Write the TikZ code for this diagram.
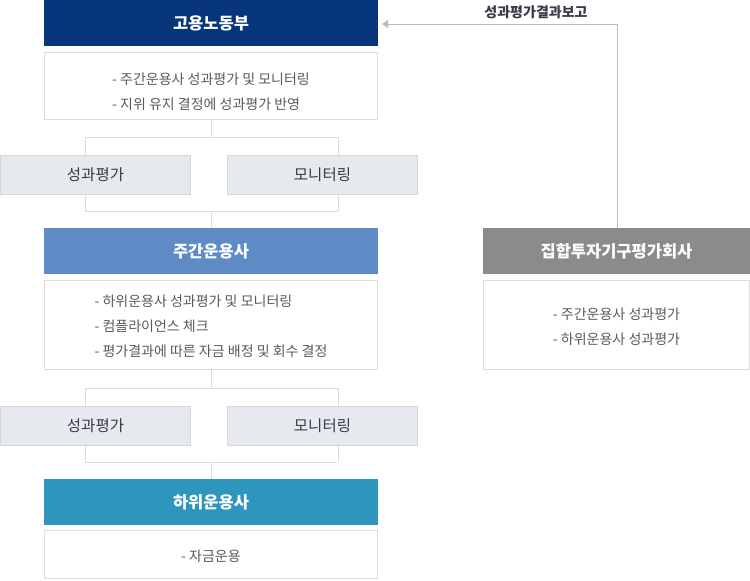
\documentclass[tikz,border=0pt]{standalone}
\usepackage{fontspec}
\setmainfont{Noto Sans CJK KR}
\usetikzlibrary{positioning,arrows.meta}
\definecolor{govblue}{HTML}{06357A}
\definecolor{mainblue}{HTML}{5E8AC6}
\definecolor{subblue}{HTML}{2E95BC}
\definecolor{evalgray}{HTML}{8B8B8B}
\definecolor{taskfill}{HTML}{E6E9EE}
\definecolor{taskline}{HTML}{D6D6D6}
\definecolor{linegray}{HTML}{DCDCDC}
\definecolor{arrowgray}{HTML}{BBBBBB}
\definecolor{desctext}{HTML}{5A5A5A}
\definecolor{tasktext}{HTML}{3A3A48}

\begin{document}
\begin{tikzpicture}[x=1pt,y=-1pt,node distance=6pt,link/.style={draw=linegray,line width=1pt}]
		\tikzstyle{head}=[minimum width=334pt,minimum height=46pt,inner sep=0pt,outer sep=0pt,text=white,font=\fontsize{16.5}{18}\selectfont\bfseries]
		\tikzstyle{desc}=[draw=linegray,line width=1pt,fill=white,minimum width=333pt,inner sep=0pt,outer sep=0pt]
		\tikzstyle{list}=[inner sep=0pt,align=left,text=desctext,font=\fontsize{14}{25}\selectfont]
		\tikzstyle{task}=[draw=taskline,line width=1pt,fill=taskfill,minimum width=190pt,minimum height=39pt,inner sep=0pt,outer sep=0pt,text=tasktext,font=\fontsize{15.5}{18}\selectfont]
		\useasboundingbox (0,0) rectangle (750,581);
		
		% left column
		\node[head,fill=govblue,anchor=north west] (gov) at (44,0) {고용노동부};
		\node[desc,minimum height=67pt,below=6pt of gov] (govdesc) {};
		\node[list] (govlist) at ([yshift=-6pt]govdesc.center) {- 주간운용사 성과평가 및 모니터링\\- 지위 유지 결정에 성과평가 반영};
		\node[task,anchor=north west] (eval1) at (0.5,155.5) {성과평가};
		\node[task,anchor=north west] (moni1) at (227.5,155.5) {모니터링};
		
		\node[head,fill=mainblue,anchor=north west] (main) at (44,228) {주간운용사};
		\node[desc,minimum height=89pt,below=6pt of main] (maindesc) {};
		\node[list] (mainlist) at ([yshift=-2pt]maindesc.center) {- 하위운용사 성과평가 및 모니터링\\- 컴플라이언스 체크\\- 평가결과에 따른 자금 배정 및 회수 결정};
		\node[task,anchor=north west] (eval2) at (0.5,406.5) {성과평가};
		\node[task,anchor=north west] (moni2) at (227.5,406.5) {모니터링};
		
		\node[head,fill=subblue,anchor=north west] (sub) at (44,479) {하위운용사};
		\node[desc,minimum height=48pt,below=5pt of sub] (subdesc) {};
		\node[list] (sublist) at ([yshift=-2pt]subdesc.center) {- 자금운용};
		
		% right column
		\node[head,minimum width=267pt,fill=evalgray,anchor=north west] (rater) at (483,228) {집합투자기구평가회사};
		\node[desc,minimum width=266pt,minimum height=89pt,below=6pt of rater] (raterdesc) {};
		\node[list] (raterlist) at ([yshift=-2pt]raterdesc.center) {- 주간운용사 성과평가\\- 하위운용사 성과평가};
		
		% forks
		\coordinate (f1l) at (85,137);
		\coordinate (f1r) at (338,137);
		\coordinate (g1l) at (85,211);
		\coordinate (g1r) at (338,211);
		\coordinate (f2l) at (85,388);
		\coordinate (f2r) at (338,388);
		\coordinate (g2l) at (85,462);
		\coordinate (g2r) at (338,462);
		
		\path[link]
		(govdesc.south) edge (govdesc.south |- f1l)
		(f1l |- eval1.north) edge (f1l)
		(f1l) edge (f1r)
		(f1r) edge (f1r |- moni1.north)
		(g1l |- eval1.south) edge (g1l)
		(g1l) edge (g1r)
		(g1r) edge (g1r |- moni1.south)
		(main.north |- g1l) edge (main.north)
		(maindesc.south) edge (maindesc.south |- f2l)
		(f2l |- eval2.north) edge (f2l)
		(f2l) edge (f2r)
		(f2r) edge (f2r |- moni2.north)
		(g2l |- eval2.south) edge (g2l)
		(g2l) edge (g2r)
		(g2r) edge (g2r |- moni2.south)
		(sub.north |- g2l) edge (sub.north);
		
		% report
		\coordinate (turn) at (617,24);
		\coordinate (tip) at (382,24);
		\draw[arrowgray,line width=1pt,-{Triangle[width=8pt,length=6pt]}] (rater.north -| turn) -- (turn) -- (tip);
		\node[text=tasktext,font=\fontsize{14}{15}\selectfont\bfseries] (report) at (536,12) {성과평가결과보고};
	\end{tikzpicture}
\end{document}
